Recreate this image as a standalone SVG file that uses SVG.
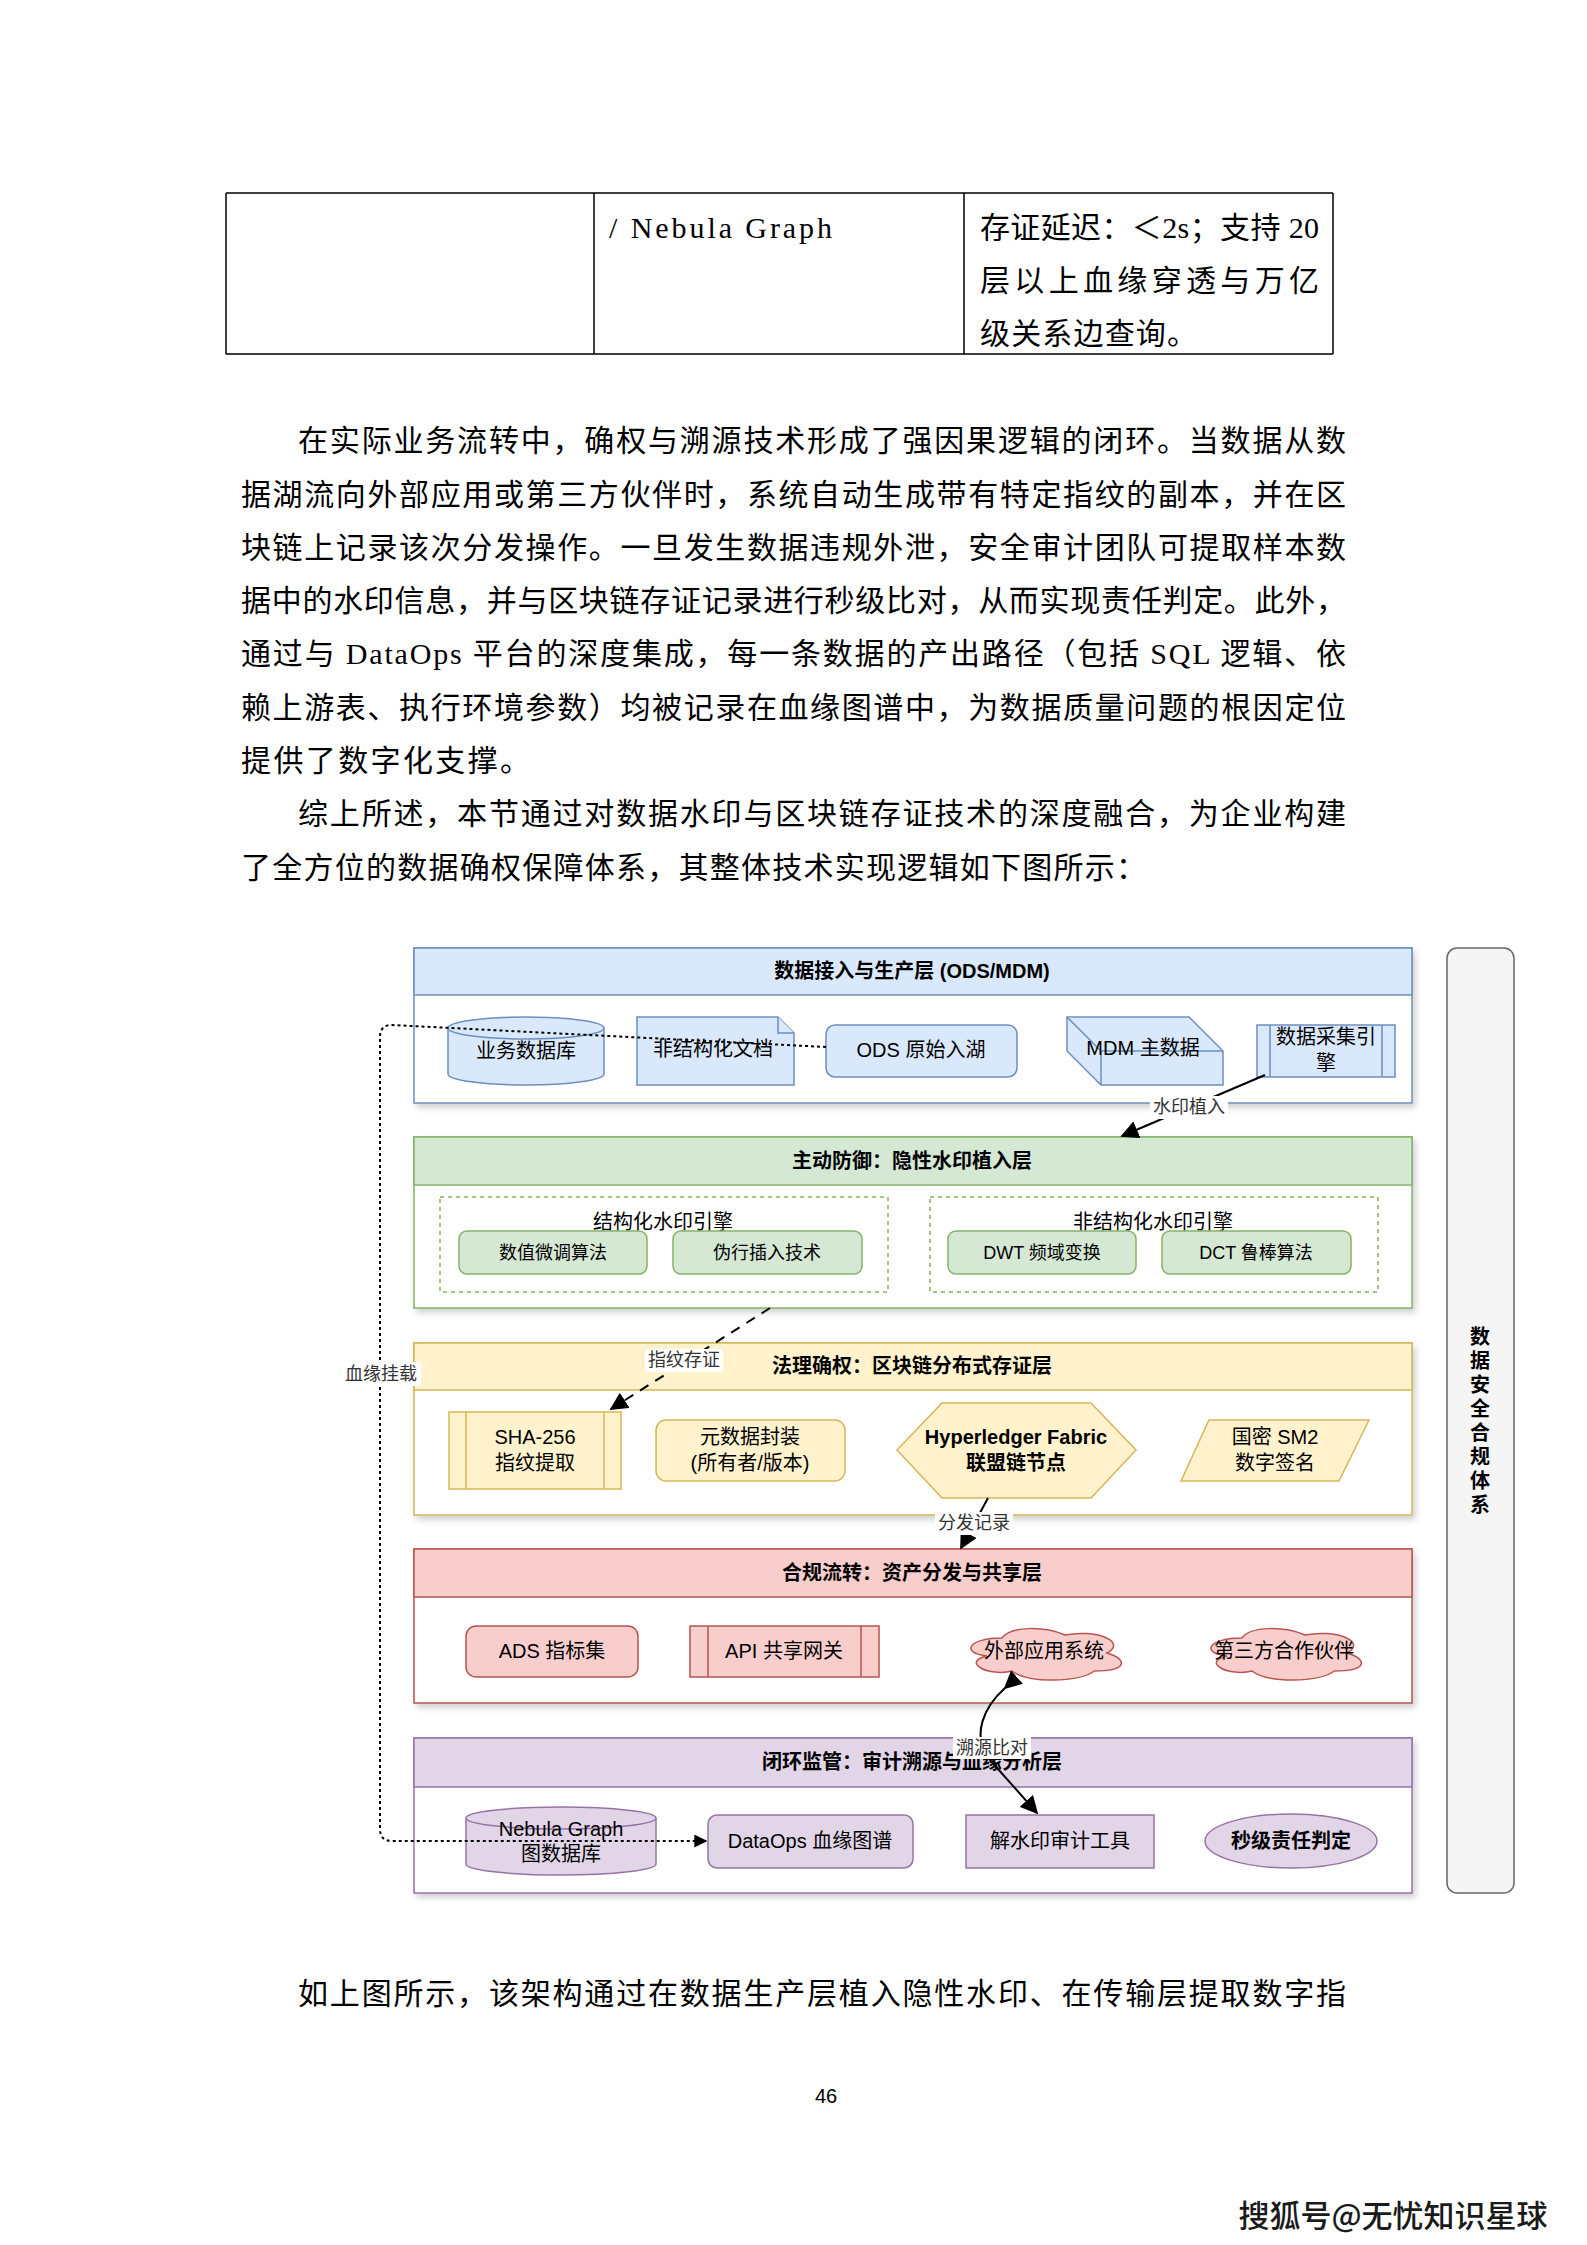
<svg xmlns="http://www.w3.org/2000/svg" width="1587" height="2245" viewBox="0 0 1587 2245">
<defs>
<style>
.body{font-family:"Liberation Serif","Noto Sans CJK SC",serif;font-size:30px;fill:#000;dominant-baseline:central}
.d{font-family:"Liberation Sans","Noto Sans CJK SC",sans-serif;font-size:20px;fill:#000;text-anchor:middle;dominant-baseline:central}
.s18{font-size:18px}
.t{font-weight:bold}
.lbl{font-family:"Liberation Sans","Noto Sans CJK SC",sans-serif;font-size:18px;fill:#333;text-anchor:middle;dominant-baseline:central}
.tbl{stroke:#000;stroke-width:1.5;fill:none}
.edge{fill:none;stroke:#000;stroke-width:2}
.bl{fill:#dae8fc;stroke:#6c8ebf;stroke-width:1.5}
.gr{fill:#d5e8d4;stroke:#82b366;stroke-width:1.5}
.ye{fill:#fff2cc;stroke:#d6b656;stroke-width:1.5}
.pk{fill:#f8cecc;stroke:#b85450;stroke-width:1.5}
.pu{fill:#e1d5e7;stroke:#9673a6;stroke-width:1.5}
.wb{fill:#fff}
</style>
<filter id="sh" x="-5%" y="-10%" width="110%" height="130%">
<feDropShadow dx="3" dy="4" stdDeviation="3" flood-color="#000" flood-opacity="0.18"/>
</filter>
<marker id="arr" viewBox="0 0 10 10" refX="9" refY="5" markerWidth="13" markerHeight="13" markerUnits="userSpaceOnUse" orient="auto-start-reverse">
<path d="M0,0 L10,5 L0,10 z" fill="#000"/>
</marker>
<marker id="arrL" viewBox="0 0 10 10" refX="9" refY="5" markerWidth="18" markerHeight="18" markerUnits="userSpaceOnUse" orient="auto">
<path d="M0,0 L10,5 L0,10 z" fill="#000"/>
</marker>
</defs>
<rect x="0" y="0" width="1587" height="2245" fill="#fff"/>

<!-- table -->
<g id="table">
<path class="tbl" d="M226,193 H1333 M226,354 H1333 M226,193 V354 M594,193 V354 M964,193 V354 M1333,193 V354"/>
<text class="body" x="609" y="227" textLength="223" lengthAdjust="spacing">/ Nebula Graph</text>
<text class="body" x="980" y="227" textLength="339" lengthAdjust="spacing">存证延迟：＜2s；支持 20</text>
<text class="body" x="980" y="280" textLength="339" lengthAdjust="spacing">层以上血缘穿透与万亿</text>
<text class="body" x="980" y="333" textLength="217" lengthAdjust="spacing">级关系边查询。</text>
</g>

<!-- body text -->
<g id="paragraphs">
<text class="body" x="298" y="440" textLength="1048" lengthAdjust="spacing">在实际业务流转中，确权与溯源技术形成了强因果逻辑的闭环。当数据从数</text>
<text class="body" x="241" y="494" textLength="1105" lengthAdjust="spacing">据湖流向外部应用或第三方伙伴时，系统自动生成带有特定指纹的副本，并在区</text>
<text class="body" x="241" y="547" textLength="1105" lengthAdjust="spacing">块链上记录该次分发操作。一旦发生数据违规外泄，安全审计团队可提取样本数</text>
<text class="body" x="241" y="600" textLength="1105" lengthAdjust="spacing">据中的水印信息，并与区块链存证记录进行秒级比对，从而实现责任判定。此外，</text>
<text class="body" x="241" y="653" textLength="1105" lengthAdjust="spacing">通过与 DataOps 平台的深度集成，每一条数据的产出路径（包括 SQL 逻辑、依</text>
<text class="body" x="241" y="707" textLength="1105" lengthAdjust="spacing">赖上游表、执行环境参数）均被记录在血缘图谱中，为数据质量问题的根因定位</text>
<text class="body" x="241" y="760" textLength="289" lengthAdjust="spacing">提供了数字化支撑。</text>
<text class="body" x="298" y="813" textLength="1048" lengthAdjust="spacing">综上所述，本节通过对数据水印与区块链存证技术的深度融合，为企业构建</text>
<text class="body" x="241" y="867" textLength="905" lengthAdjust="spacing">了全方位的数据确权保障体系，其整体技术实现逻辑如下图所示：</text>
<text class="body" x="298" y="1993" textLength="1048" lengthAdjust="spacing">如上图所示，该架构通过在数据生产层植入隐性水印、在传输层提取数字指</text>
</g>

<!-- right container -->
<g id="compliance">
<rect x="1447" y="948" width="67" height="945" rx="10" fill="#f5f5f5" stroke="#666" stroke-width="1.5"/>
<text class="d t" x="1480" y="1337">数</text>
<text class="d t" x="1480" y="1361">据</text>
<text class="d t" x="1480" y="1385">安</text>
<text class="d t" x="1480" y="1409">全</text>
<text class="d t" x="1480" y="1433">合</text>
<text class="d t" x="1480" y="1457">规</text>
<text class="d t" x="1480" y="1481">体</text>
<text class="d t" x="1480" y="1505">系</text>
</g>

<!-- layer 1 -->
<g id="layer1">
<g filter="url(#sh)">
<rect x="414" y="948" width="998" height="155" fill="#fff" stroke="#6c8ebf" stroke-width="1.5"/>
</g>
<rect class="bl" x="414" y="948" width="998" height="47"/>
<text class="d t" x="912" y="971">数据接入与生产层 (ODS/MDM)</text>
</g>
<g id="n-bizdb">
<path class="bl" d="M448,1028 a78,11 0 0,1 156,0 v46 a78,11 0 0,1 -156,0 z"/>
<path class="bl" fill="none" d="M448,1028 a78,11 0 0,0 156,0"/>
<text class="d" x="526" y="1051">业务数据库</text>
</g>
<g id="n-unstruct">
<path class="bl" d="M637,1017 H778 L794,1033 V1085 H637 Z"/>
<path class="bl" d="M778,1017 V1033 H794"/>
<text class="d" x="713" y="1049">非结构化文档</text>
</g>
<g id="n-ods">
<rect class="bl" x="826" y="1025" width="191" height="52" rx="9"/>
<text class="d" x="921" y="1050">ODS 原始入湖</text>
</g>
<g id="n-mdm">
<path class="bl" d="M1067,1017 H1189 L1223,1051 V1085 H1101 L1067,1051 Z"/>
<path class="bl" fill="none" d="M1067,1017 L1101,1051 H1223 M1101,1051 V1085"/>
<text class="d" x="1143" y="1048">MDM 主数据</text>
</g>
<g id="n-collect">
<rect class="bl" x="1257" y="1025" width="138" height="52"/>
<path class="bl" d="M1270,1025 V1077 M1382,1025 V1077"/>
<text class="d" x="1326" y="1037">数据采集引</text>
<text class="d" x="1326" y="1063">擎</text>
</g>

<!-- layer 2 -->
<g id="layer2">
<g filter="url(#sh)">
<rect x="414" y="1137" width="998" height="171" fill="#fff" stroke="#82b366" stroke-width="1.5"/>
</g>
<rect class="gr" x="414" y="1137" width="998" height="48"/>
<text class="d t" x="912" y="1161">主动防御：隐性水印植入层</text>
</g>
<g id="g-struct">
<rect x="440" y="1197" width="448" height="95" fill="none" stroke="#82b366" stroke-width="1.5" stroke-dasharray="4 4"/>
<text class="d" x="663" y="1222">结构化水印引擎</text>
</g>
<g id="g-unstruct">
<rect x="930" y="1197" width="448" height="95" fill="none" stroke="#82b366" stroke-width="1.5" stroke-dasharray="4 4"/>
<text class="d" x="1153" y="1222">非结构化水印引擎</text>
</g>
<g id="n-numeric">
<rect class="gr" x="459" y="1231" width="188" height="43" rx="8"/>
<text class="d s18" x="553" y="1253">数值微调算法</text>
</g>
<g id="n-fakerow">
<rect class="gr" x="673" y="1231" width="189" height="43" rx="8"/>
<text class="d s18" x="767" y="1253">伪行插入技术</text>
</g>
<g id="n-dwt">
<rect class="gr" x="948" y="1231" width="188" height="43" rx="8"/>
<text class="d s18" x="1042" y="1253">DWT 频域变换</text>
</g>
<g id="n-dct">
<rect class="gr" x="1162" y="1231" width="189" height="43" rx="8"/>
<text class="d s18" x="1256" y="1253">DCT 鲁棒算法</text>
</g>

<!-- layer 3 -->
<g id="layer3">
<g filter="url(#sh)">
<rect x="414" y="1343" width="998" height="172" fill="#fff" stroke="#d6b656" stroke-width="1.5"/>
</g>
<rect class="ye" x="414" y="1343" width="998" height="47"/>
<text class="d t" x="912" y="1366">法理确权：区块链分布式存证层</text>
</g>
<g id="n-sha">
<rect class="ye" x="449" y="1412" width="172" height="77"/>
<path class="ye" d="M466,1412 V1489 M604,1412 V1489"/>
<text class="d" x="535" y="1437">SHA-256</text>
<text class="d" x="535" y="1463">指纹提取</text>
</g>
<g id="n-meta">
<rect class="ye" x="656" y="1420" width="189" height="61" rx="10"/>
<text class="d" x="750" y="1437">元数据封装</text>
<text class="d" x="750" y="1463">(所有者/版本)</text>
</g>
<g id="n-fabric">
<polygon class="ye" points="897,1450 942,1403 1091,1403 1136,1450 1091,1498 942,1498"/>
<text class="d t" x="1016" y="1437" font-size="19">Hyperledger Fabric</text>
<text class="d t" x="1016" y="1463">联盟链节点</text>
</g>
<g id="n-sm2">
<polygon class="ye" points="1209,1420 1369,1420 1339,1481 1181,1481"/>
<text class="d" x="1275" y="1437">国密 SM2</text>
<text class="d" x="1275" y="1463">数字签名</text>
</g>

<!-- layer 4 -->
<g id="layer4">
<g filter="url(#sh)">
<rect x="414" y="1549" width="998" height="154" fill="#fff" stroke="#b85450" stroke-width="1.5"/>
</g>
<rect class="pk" x="414" y="1549" width="998" height="48"/>
<text class="d t" x="912" y="1573">合规流转：资产分发与共享层</text>
</g>
<g id="n-ads">
<rect class="pk" x="466" y="1626" width="172" height="51" rx="10"/>
<text class="d" x="552" y="1651">ADS 指标集</text>
</g>
<g id="n-api">
<rect class="pk" x="690" y="1626" width="189" height="51"/>
<path class="pk" d="M708,1626 V1677 M861,1626 V1677"/>
<text class="d" x="784" y="1651">API 共享网关</text>
</g>
<g id="n-extapp">
<path class="pk" d="M1002,1638 C968.4,1638 960,1653 986.9,1656 C960,1662.6 990.2,1677 1012.1,1671 C1027.2,1683 1077.6,1683 1094.4,1671 C1128,1671 1128,1659 1107,1653 C1128,1641 1094.4,1629 1065,1635 C1044,1626 1010.4,1626 1002,1638 Z"/>
<text class="d" x="1044" y="1651">外部应用系统</text>
</g>
<g id="n-partner">
<path class="pk" d="M1242,1638 C1208.4,1638 1200,1653 1226.9,1656 C1200,1662.6 1230.2,1677 1252.1,1671 C1267.2,1683 1317.6,1683 1334.4,1671 C1368,1671 1368,1659 1347,1653 C1368,1641 1334.4,1629 1305,1635 C1284,1626 1250.4,1626 1242,1638 Z"/>
<text class="d" x="1284" y="1651">第三方合作伙伴</text>
</g>

<!-- layer 5 -->
<g id="layer5">
<g filter="url(#sh)">
<rect x="414" y="1738" width="998" height="155" fill="#fff" stroke="#9673a6" stroke-width="1.5"/>
</g>
<rect class="pu" x="414" y="1738" width="998" height="49"/>
<text class="d t" x="912" y="1762">闭环监管：审计溯源与血缘分析层</text>
</g>
<g id="n-nebula">
<path class="pu" d="M466,1818 a95,11 0 0,1 190,0 v46 a95,11 0 0,1 -190,0 z"/>
<path class="pu" fill="none" d="M466,1818 a95,11 0 0,0 190,0"/>
<text class="d" x="561" y="1829">Nebula Graph</text>
<text class="d" x="561" y="1854">图数据库</text>
</g>
<g id="n-dataops">
<rect class="pu" x="708" y="1815" width="205" height="53" rx="9"/>
<text class="d" x="810" y="1841">DataOps 血缘图谱</text>
</g>
<g id="n-dewm">
<rect class="pu" x="966" y="1815" width="188" height="53"/>
<text class="d" x="1060" y="1841">解水印审计工具</text>
</g>
<g id="n-judge">
<ellipse class="pu" cx="1291" cy="1841" rx="86" ry="27"/>
<text class="d t" x="1291" y="1841">秒级责任判定</text>
</g>

<!-- connectors -->
<g id="connectors">
<path class="edge" stroke-width="1.5" stroke-dasharray="3 3" d="M826,1047 L392,1025 Q380,1025 380,1037 L380,1829 Q380,1841 392,1841 L706,1841" marker-end="url(#arr)"/>
<rect class="wb" x="341" y="1362" width="80" height="24"/>
<text class="lbl" x="381" y="1374">血缘挂载</text>

<path class="edge" d="M1265,1075 L1122,1136" marker-end="url(#arrL)"/>
<rect class="wb" x="1150" y="1096" width="78" height="23"/>
<text class="lbl" x="1189" y="1107">水印植入</text>

<path class="edge" stroke-width="3" stroke-dasharray="10 8" d="M770,1308 L611,1409" marker-end="url(#arrL)"/>
<rect class="wb" x="645" y="1349" width="78" height="23"/>
<text class="lbl" x="684" y="1360">指纹存证</text>

<path class="edge" d="M988,1498 L961,1548" marker-end="url(#arrL)"/>
<rect class="wb" x="935" y="1512" width="78" height="23"/>
<text class="lbl" x="974" y="1523">分发记录</text>

<path class="edge" d="M1005,1688 C985,1706 970,1735 990,1760 L1037,1813" marker-start="url(#arrL)" marker-end="url(#arrL)"/>
<rect class="wb" x="953" y="1737" width="78" height="22"/>
<text class="lbl" x="992" y="1748">溯源比对</text>
</g>

<!-- footer -->
<g id="footer">
<text x="826" y="2096" font-family="Liberation Sans, sans-serif" font-size="20" fill="#000" text-anchor="middle" dominant-baseline="central">46</text>
<text x="1393" y="2213" font-family="Noto Sans CJK SC, sans-serif" font-size="31" font-weight="500" fill="#1a1a1a" stroke="#fff" stroke-width="2" paint-order="stroke" text-anchor="middle" dominant-baseline="central">搜狐号@无忧知识星球</text>
</g>
</svg>
